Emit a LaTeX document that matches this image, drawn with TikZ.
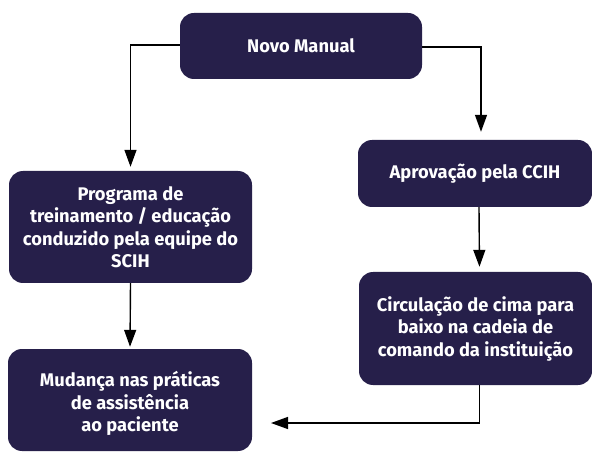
\documentclass[tikz,border=0pt]{standalone}
\usepackage{fontspec}
\setmainfont{Fira Sans}
\usetikzlibrary{arrows.meta}
\definecolor{boxnavy}{RGB}{38,31,74}
\tikzset{
  box/.style={fill=boxnavy, rounded corners=14pt, text=white, align=center,
    font=\bfseries\fontsize{18.3}{22.5}\selectfont, inner sep=0pt},
  arr/.style={line width=1.4pt, -{Triangle[length=17pt,width=12pt]}}
}
\begin{document}
\begin{tikzpicture}[x=1pt,y=-1pt]
\useasboundingbox (0,0) rectangle (592,457);
\node[box, minimum width=242pt, minimum height=66pt] (n) at (301,46) {Novo Manual};
\node[box, minimum width=234pt, minimum height=67pt] (a) at (475,173.5) {Aprovação pela CCIH};
\node[box, minimum width=243pt, minimum height=112pt] (p) at (130.5,227) {Programa de\\treinamento / educação\\conduzido pela equipe do\\SCIH};
\node[box, minimum width=233pt, minimum height=113pt] (c) at (475.5,328.5) {Circulação de cima para\\baixo na cadeia de\\comando da instituição};
\node[box, minimum width=244pt, minimum height=102pt] (m) at (130,400) {\rule{0pt}{23pt}Mudança nas práticas\\de assistência\\ao paciente};
\coordinate (mt) at (271,423);
\draw[arr, shorten >=4pt] ([yshift=1pt]n.west) -| (p.north);
\draw[arr, shorten >=8pt] ([yshift=-1pt]n.east) -| ([xshift=6pt]a.north);
\draw[arr, shorten >=5pt] ([xshift=4pt]a.south) -- ([xshift=4pt]c.north);
\draw[arr, shorten >=2pt] (p.south) -- (m.north);
\draw[arr] ([xshift=4pt]c.south) |- (mt);
\end{tikzpicture}
\end{document}
